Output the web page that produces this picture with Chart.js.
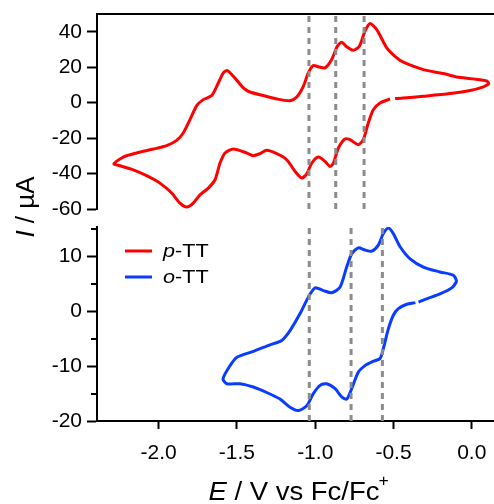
<!DOCTYPE html>
<html>
<head>
<meta charset="utf-8">
<script src="https://cdn.jsdelivr.net/npm/chart.js@4.4.1/dist/chart.umd.min.js"></script>
<style>
  html, body { margin: 0; padding: 0; background: #fff; }
  #wrap { position: relative; width: 494px; height: 504px; }
  #wrap canvas { position: absolute; left: 0; top: 0; }
</style>
</head>
<body>
<div id="wrap">
  <canvas id="topChart" width="494" height="504"></canvas>
  <canvas id="bottomChart" width="494" height="504"></canvas>
</div>
<script>
// axis ranges and tick labels
const E_RANGE = [-2.394, 0.142];
const E_TICKS = [-2.0, -1.5, -1.0, -0.5, 0.0];
const I_RANGE_TOP = [-60, 50];
const I_TICKS_TOP = [-60, -40, -20, 0, 20, 40];
const I_RANGE_BOT = [-20, 15.4];
const I_TICKS_BOT = [-20, -10, 0, 10];
const I_MINOR_BOT = [-15, -5, 5, 15];

// p-TT voltammogram (E in V vs Fc/Fc+, I in uA)
const pTT_E = [-0.49, -0.437, -0.309, -0.139, -0.011, 0.074, 0.108, 0.096, 0.010, -0.096,
  -0.181, -0.309, -0.437, -0.479, -0.543, -0.607, -0.650, -0.682, -0.718, -0.757,
  -0.799, -0.831, -0.859, -0.895, -0.937, -0.980, -1.012, -1.044, -1.076, -1.118,
  -1.161, -1.246, -1.332, -1.417, -1.459, -1.523, -1.562, -1.587, -1.619, -1.661,
  -1.715, -1.757, -1.800, -1.843, -1.885, -1.949, -2.034, -2.141, -2.226, -2.286,
  -2.247, -2.162, -2.077, -1.992, -1.917, -1.864, -1.821, -1.779, -1.736, -1.683,
  -1.640, -1.608, -1.576, -1.523, -1.438, -1.396, -1.353, -1.310, -1.246, -1.182,
  -1.129, -1.086, -1.054, -1.022, -0.980, -0.937, -0.905, -0.884, -0.852, -0.810,
  -0.778, -0.725, -0.693, -0.661, -0.629, -0.586, -0.522];
const pTT_I = [2.3, 2.6, 3.6, 5.1, 6.8, 8.9, 10.6, 12.2, 13.4, 14.5,
  16.4, 18.6, 22.8, 25.2, 30.9, 41.2, 44.6, 40.3, 31.8, 29.5,
  31.5, 34.1, 31.8, 24.3, 19.6, 20.2, 20.9, 16.8, 9.2, 3.2,
  1.1, 2.1, 4.0, 6.0, 8.3, 14.9, 18.1, 16.8, 11.1, 4.0,
  1.7, -1.7, -9.6, -17.1, -21.3, -24.3, -26.2, -28.4, -30.7, -34.5,
  -35.6, -37.9, -41.2, -45.4, -51.0, -56.7, -58.9, -56.7, -52.0, -48.2,
  -43.5, -34.1, -28.4, -26.2, -28.4, -29.9, -28.8, -26.9, -28.8, -32.2,
  -38.8, -42.5, -40.1, -34.1, -30.7, -33.2, -36.0, -34.1, -25.6, -20.5,
  -20.9, -23.7, -20.9, -11.5, -4.0, -0.2, 2.1];

// o-TT voltammogram
const oTT_E = [-0.34, -0.288, -0.203, -0.128, -0.098, -0.118, -0.203, -0.309, -0.394, -0.458,
  -0.501, -0.533, -0.565, -0.597, -0.639, -0.682, -0.725, -0.767, -0.799, -0.842,
  -0.895, -0.948, -1.001, -1.044, -1.097, -1.161, -1.214, -1.289, -1.396, -1.502,
  -1.544, -1.589, -1.565, -1.481, -1.396, -1.310, -1.225, -1.161, -1.108, -1.054,
  -1.012, -0.969, -0.927, -0.873, -0.831, -0.799, -0.767, -0.725, -0.682, -0.629,
  -0.586, -0.565, -0.533, -0.501, -0.469, -0.415, -0.36];
const oTT_I = [1.7, 2.3, 3.2, 4.3, 5.5, 6.6, 7.2, 8.1, 9.6, 11.8,
  14.2, 15.2, 14.2, 12.1, 11.0, 11.2, 11.6, 10.5, 8.1, 4.4,
  3.4, 3.8, 4.3, 2.6, -0.4, -3.5, -5.3, -6.1, -7.3, -8.4,
  -9.9, -12.3, -13.2, -13.2, -13.8, -14.8, -16.0, -17.5, -18.1, -17.2,
  -15.0, -13.5, -13.2, -14.1, -15.6, -16.0, -14.1, -11.1, -9.9, -9.1,
  -8.6, -6.8, -3.2, -0.7, 0.5, 1.3, 1.6];

// peak potentials marked by dotted lines
const pTT_marks = [-1.04, -0.869, -0.688];
const oTT_marks = [-1.038, -0.771, -0.571];

const FONT = 'Arial, "Liberation Sans", sans-serif';
const RED = '#ff0000';
const BLUE = '#0a3cff';

function pts(xs, ys) {
  return xs.map((x, i) => ({ x: x, y: ys[i] }));
}

function markSets(marks, range) {
  return marks.map(e => ({
    data: [{ x: e, y: range[0] }, { x: e, y: range[1] }],
    showLine: true, pointRadius: 0, borderColor: '#8c8c8c', borderWidth: 3,
    borderDash: [6, 5], borderCapStyle: 'butt', order: 0
  }));
}

function curve(xs, ys, color) {
  return {
    data: pts(xs, ys), showLine: true, pointRadius: 0, borderColor: color,
    borderWidth: 3, tension: 0.25, order: 1
  };
}

function drawParts(ctx, parts, size, align) {
  const widths = parts.map(p => {
    ctx.font = (p[1] ? 'italic ' : '') + size + 'px ' + FONT;
    return ctx.measureText(p[0]).width;
  });
  const total = widths.reduce((a, b) => a + b, 0);
  let x = align === 'center' ? -total / 2 : 0;
  parts.forEach((p, i) => {
    ctx.font = (p[1] ? 'italic ' : '') + size + 'px ' + FONT;
    ctx.fillText(p[0], x, 0);
    x += widths[i];
  });
  return x;
}

function yAxis(range, ticks) {
  return {
    type: 'linear', position: 'left', min: range[0], max: range[1],
    afterBuildTicks: s => { s.ticks = ticks.map(v => ({ value: v })); },
    afterFit: s => { s.width = 97; s.paddingTop = 0; s.paddingBottom = 0; },
    ticks: { color: '#000', font: { family: FONT, size: 21 }, padding: 5 },
    grid: { drawOnChartArea: false, drawTicks: true, tickLength: 10, tickWidth: 2, tickColor: '#000' },
    border: { color: '#000', width: 2 }
  };
}

const yTitle = {
  id: 'yTitle',
  afterDraw(chart) {
    const ctx = chart.ctx;
    ctx.save();
    ctx.fillStyle = '#000';
    ctx.textBaseline = 'middle';
    ctx.textAlign = 'left';
    ctx.translate(27, 207);
    ctx.rotate(-Math.PI / 2);
    drawParts(ctx, [['I', true], [' / \u00b5A', false]], 26, 'center');
    ctx.restore();
  }
};

const bottomExtras = {
  id: 'bottomExtras',
  afterDraw(chart) {
    const ctx = chart.ctx;
    const ys = chart.scales.y;
    const left = chart.chartArea.left;
    ctx.save();
    // minor ticks
    ctx.strokeStyle = '#000';
    ctx.lineWidth = 2;
    I_MINOR_BOT.forEach(v => {
      const py = Math.round(ys.getPixelForValue(v));
      ctx.beginPath();
      ctx.moveTo(left - 6, py);
      ctx.lineTo(left, py);
      ctx.stroke();
    });
    // legend
    ctx.lineWidth = 3;
    [[RED, 'p', 251, 257], [BLUE, 'o', 277, 283]].forEach(([c, s, ly, by]) => {
      ctx.strokeStyle = c;
      ctx.beginPath();
      ctx.moveTo(125, ly);
      ctx.lineTo(152, ly);
      ctx.stroke();
      ctx.save();
      ctx.fillStyle = '#000';
      ctx.textBaseline = 'alphabetic';
      ctx.textAlign = 'left';
      ctx.translate(163, by);
      ctx.scale(1.2, 1);
      drawParts(ctx, [[s, true], ['-TT', false]], 18, 'left');
      ctx.restore();
    });
    // x title
    ctx.fillStyle = '#000';
    ctx.textBaseline = 'alphabetic';
    ctx.textAlign = 'left';
    ctx.save();
    ctx.translate(294, 500);
    ctx.scale(1.1, 1);
    const end = drawParts(ctx, [['E', true], [' / V vs Fc/Fc', false]], 25, 'center');
    ctx.font = '16px ' + FONT;
    ctx.fillText('+', end - 1, -14);
    ctx.restore();
    ctx.restore();
  }
};

const base = {
  responsive: false,
  animation: false,
  events: [],
  plugins: { legend: { display: false }, tooltip: { enabled: false } }
};

new Chart(document.getElementById('topChart'), {
  type: 'scatter',
  data: { datasets: [...markSets(pTT_marks, I_RANGE_TOP), curve(pTT_E, pTT_I, RED)] },
  options: {
    ...base,
    layout: { padding: { top: 0, left: 0, right: 0, bottom: 295 } },
    scales: {
      x: {
        type: 'linear', position: 'top', min: E_RANGE[0], max: E_RANGE[1],
        ticks: { display: false },
        grid: { display: false },
        border: { display: true, color: '#000', width: 2 },
        afterFit: s => { s.height = 14; s.paddingLeft = 0; s.paddingRight = 0; }
      },
      y: yAxis(I_RANGE_TOP, I_TICKS_TOP)
    }
  },
  plugins: [yTitle]
});

new Chart(document.getElementById('bottomChart'), {
  type: 'scatter',
  data: { datasets: [...markSets(oTT_marks, I_RANGE_BOT), curve(oTT_E, oTT_I, BLUE)] },
  options: {
    ...base,
    layout: { padding: { top: 227, left: 0, right: 0, bottom: 0 } },
    scales: {
      x: {
        type: 'linear', position: 'bottom', min: E_RANGE[0], max: E_RANGE[1],
        afterBuildTicks: s => { s.ticks = E_TICKS.map(v => ({ value: v })); },
        afterFit: s => { s.height = 83; s.paddingLeft = 0; s.paddingRight = 0; },
        ticks: {
          color: '#000', font: { family: FONT, size: 21 }, padding: 12,
          callback: v => (Math.abs(v) < 1e-9 ? 0 : v).toFixed(1)
        },
        grid: { drawOnChartArea: false, drawTicks: true, tickLength: 8, tickWidth: 2, tickColor: '#000' },
        border: { color: '#000', width: 2 }
      },
      y: yAxis(I_RANGE_BOT, I_TICKS_BOT)
    }
  },
  plugins: [bottomExtras]
});
</script>
</body>
</html>
